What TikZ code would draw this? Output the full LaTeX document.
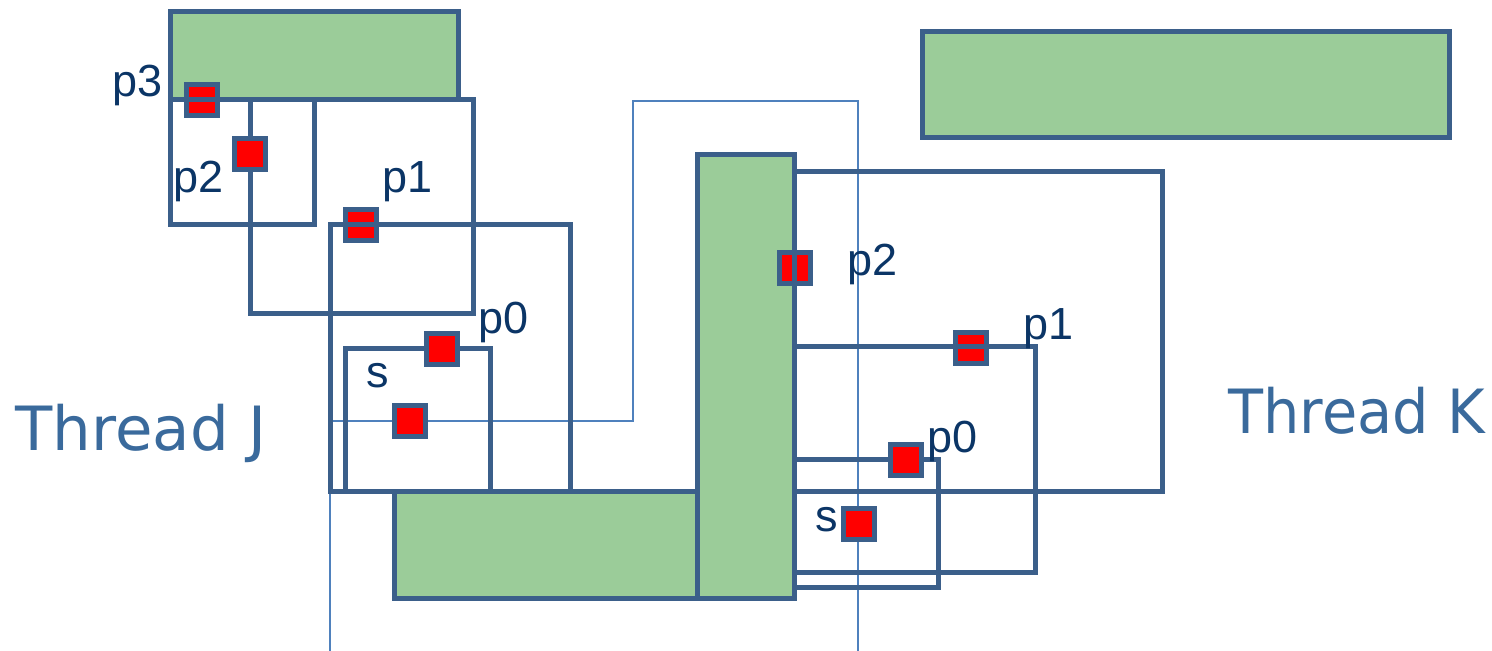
\documentclass[tikz,border=0pt]{standalone}
\usepackage{fontspec}
\newfontfamily\labfont{Liberation Sans}
\newfontfamily\thfont{DejaVu Sans}
\definecolor{boxblue}{HTML}{3B5F8A}
\definecolor{fillgreen}{HTML}{9BCC99}
\definecolor{labnavy}{HTML}{0B3566}
\definecolor{thblue}{HTML}{3A6A9C}
\definecolor{thinblue}{HTML}{4F81BD}
\tikzset{
  box/.style={draw=boxblue, line width=2.5pt, line join=miter},
  greenbox/.style={box, fill=fillgreen},
  thinline/.style={draw=thinblue, line width=0.8pt},
  sq/.style={draw=boxblue, fill=red, line width=2.5pt, minimum size=15.5pt, inner sep=0pt, outer sep=0pt, rectangle},
  lab/.style={text=labnavy, inner sep=0pt, anchor=base west, font=\labfont\fontsize{22.5}{27}\selectfont},
  thread/.style={text=thblue, inner sep=0pt, anchor=base west, font=\thfont\fontsize{30.5}{36}\selectfont}
}
\begin{document}
\begin{tikzpicture}[x=0.5pt, y=-0.5pt]
\useasboundingbox (0,0) rectangle (1492,651);
% thin connector path
\coordinate (t0) at (330,651);
\coordinate (t1) at (330,421);
\coordinate (t2) at (633,421);
\coordinate (t3) at (633,101);
\coordinate (t4) at (858,101);
\coordinate (t5) at (858,651);
\draw[thinline] (t0) -- (t1) -- (t2) -- (t3) -- (t4) -- (t5);
% green rectangles
\draw[greenbox] (170,12) rectangle (458,100);
\draw[greenbox] (922,32) rectangle (1449,138);
\draw[greenbox] (394,491) rectangle (697,598);
\draw[greenbox] (697,155) rectangle (794,598);
% squares lying under box edges
\node[sq] (sqpthreeL) at (202,100) {};
\node[sq] (sqponeL) at (361,225) {};
\node[sq] (sqptwoR) at (795,268) {};
\node[sq] (sqponeR) at (971,348) {};
% boxes
\draw[box] (170,100) rectangle (314,225);
\draw[box] (250,100) rectangle (473,314);
\draw[box] (330,225) rectangle (570,491);
\draw[box] (345,349) rectangle (490,491);
\draw[box] (794,172) rectangle (1162,491);
\draw[box] (794,347) rectangle (1035,572);
\draw[box] (794,460) rectangle (938,587);
% squares on top
\node[sq] (sqptwoL) at (250,154) {};
\node[sq] (sqpzeroL) at (442,349) {};
\node[sq] (sqsL) at (410,421) {};
\node[sq] (sqpzeroR) at (906,460) {};
\node[sq] (sqsR) at (859,524) {};
% labels
\node[lab] (lpthree) at (112,97) {p3};
\node[lab] (lptwoL) at (173,193) {p2};
\node[lab] (lponeL) at (382,193) {p1};
\node[lab] (lpzeroL) at (478,334) {p0};
\node[lab] (lsL) at (366,388) {s};
\node[lab] (lptwoR) at (847,276) {p2};
\node[lab] (lponeR) at (1023,340) {p1};
\node[lab] (lpzeroR) at (927,452) {p0};
\node[lab] (lsR) at (815,531) {s};
\node[thread] (threadJ) at (15,451) {\scalebox{1.0}[1]{Thread J}};
\node[thread] (threadK) at (1228,434) {\scalebox{0.94}[1]{Thread K}};
\end{tikzpicture}
\end{document}
